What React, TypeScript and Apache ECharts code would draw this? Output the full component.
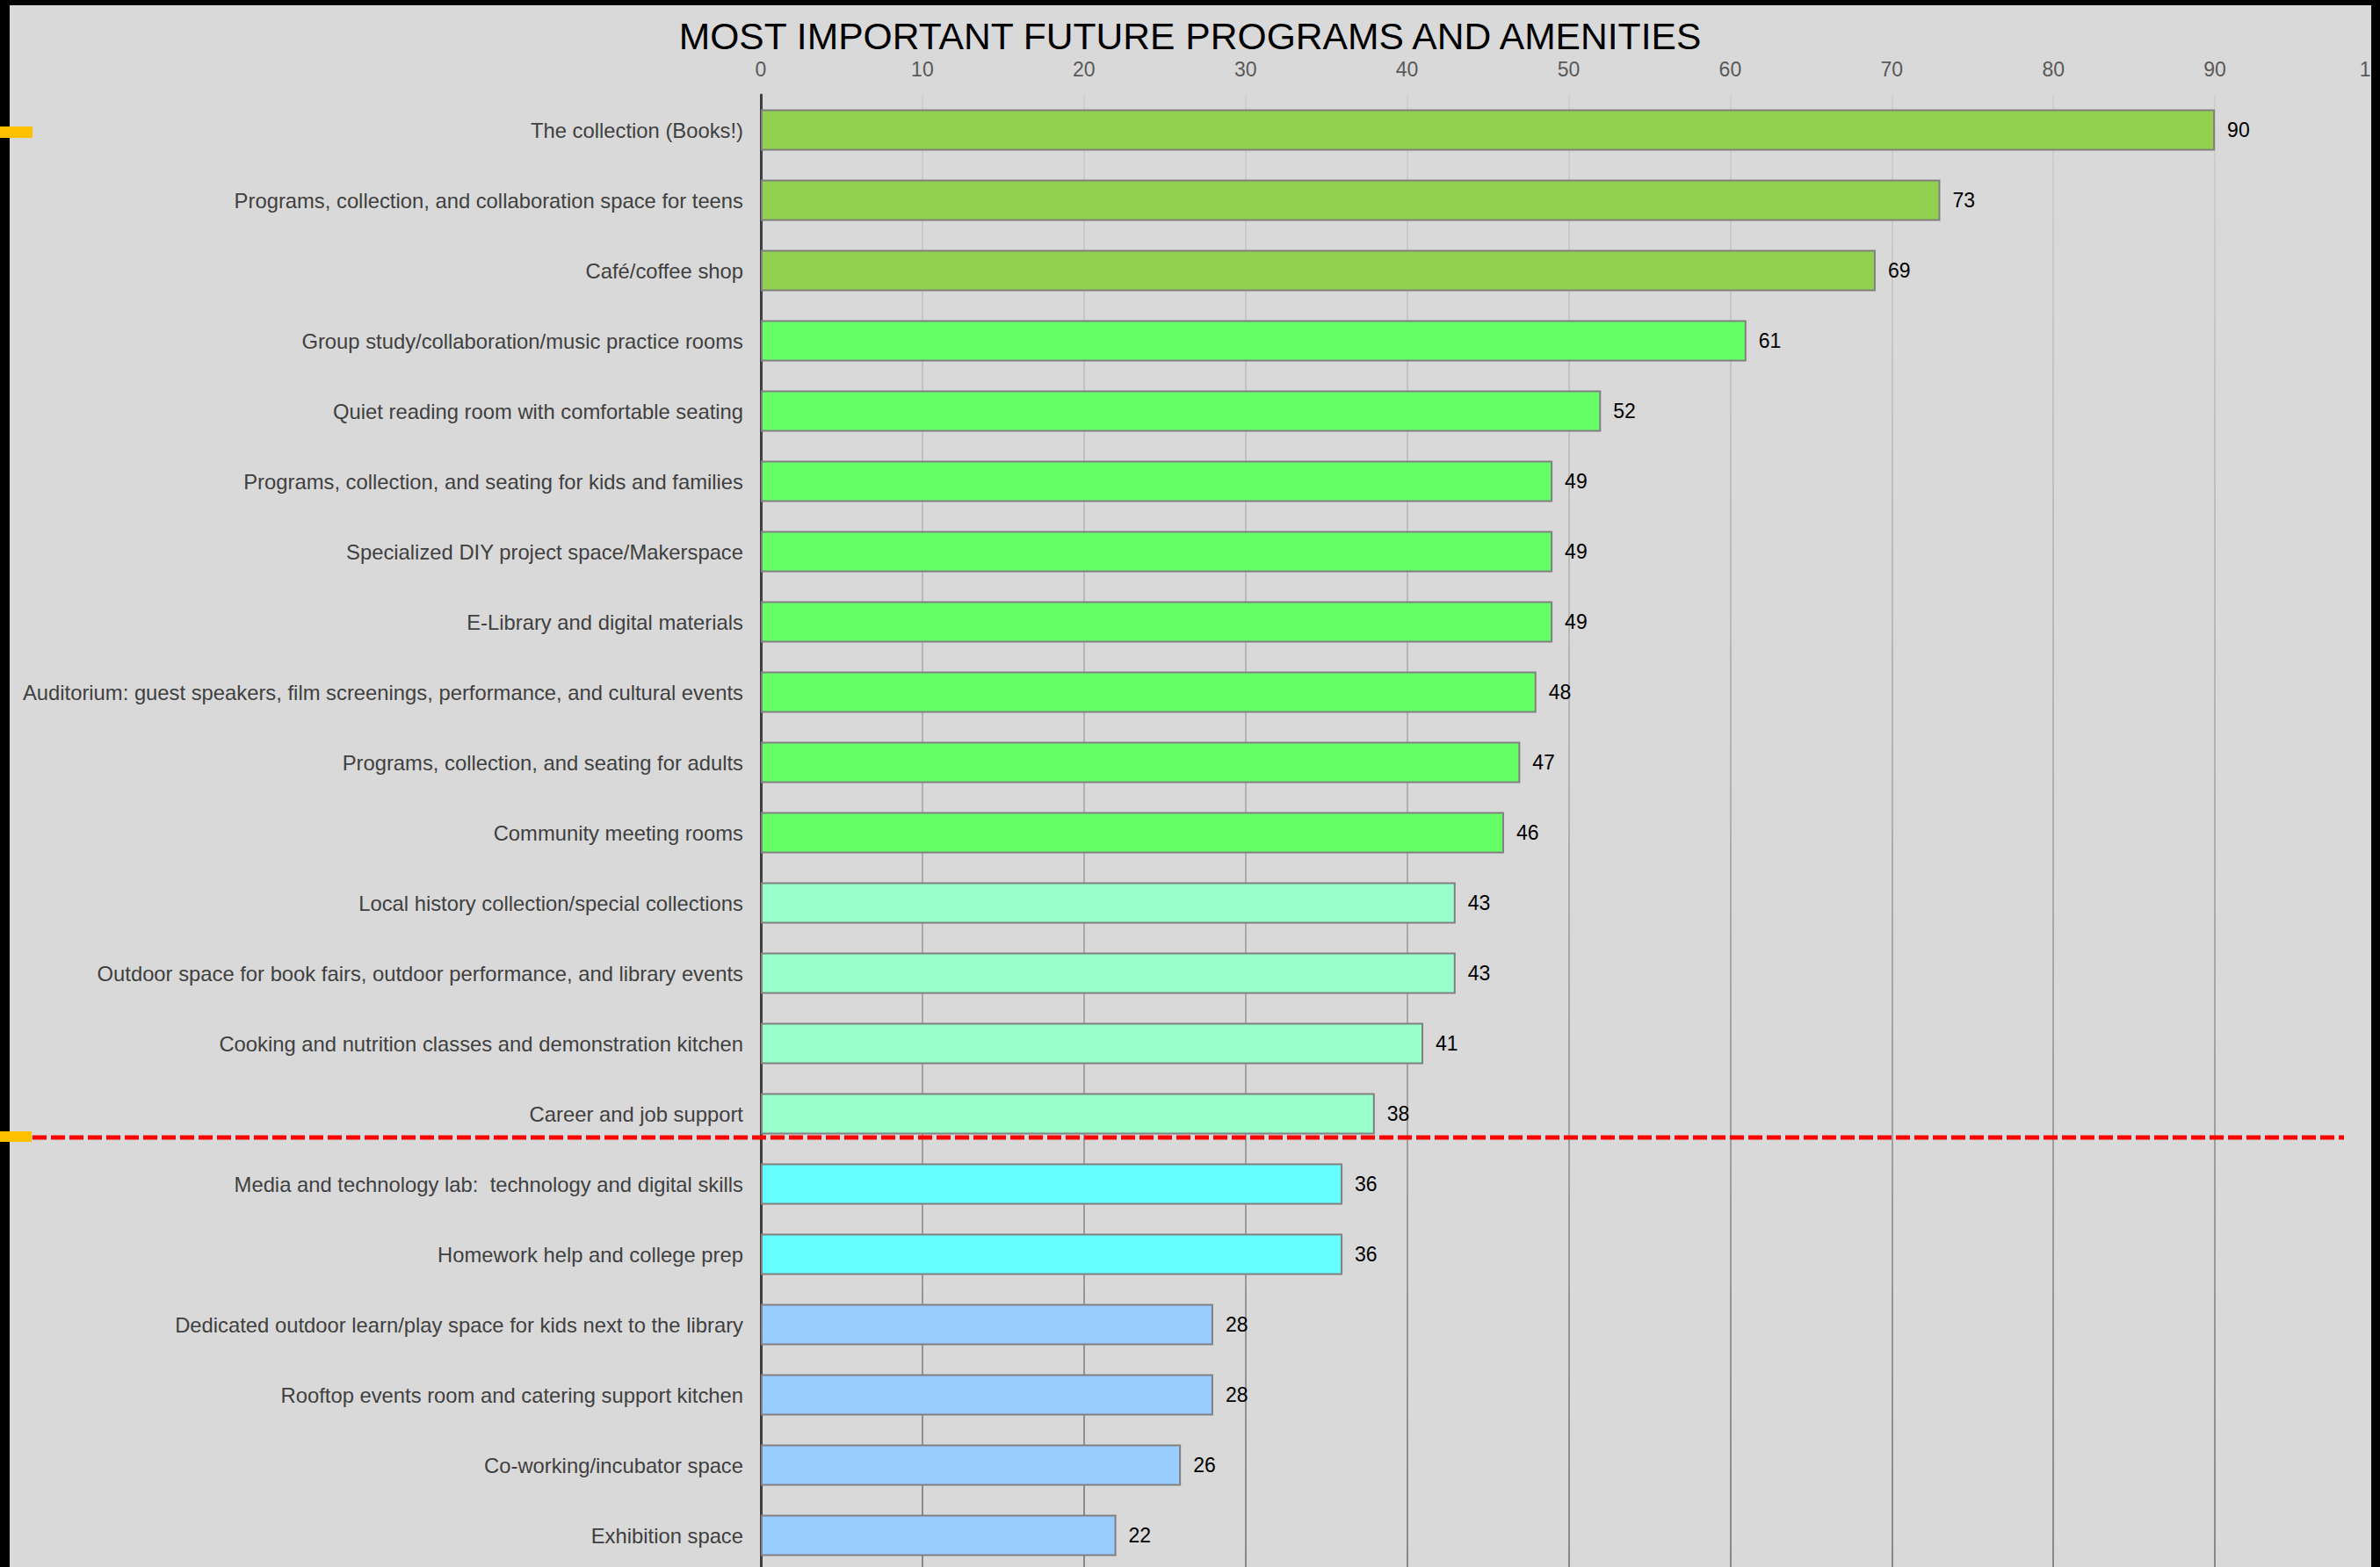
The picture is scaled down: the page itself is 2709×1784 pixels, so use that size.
import React, { useEffect, useRef } from "react";
import * as echarts from "echarts";

const title = "MOST IMPORTANT FUTURE PROGRAMS AND AMENITIES";

const categories = [
  "The collection (Books!)",
  "Programs, collection, and collaboration space for teens",
  "Café/coffee shop",
  "Group study/collaboration/music practice rooms",
  "Quiet reading room with comfortable seating",
  "Programs, collection, and seating for kids and families",
  "Specialized DIY project space/Makerspace",
  "E-Library and digital materials",
  "Auditorium: guest speakers, film screenings, performance, and cultural events",
  "Programs, collection, and seating for adults",
  "Community meeting rooms",
  "Local history collection/special collections",
  "Outdoor space for book fairs, outdoor performance, and library events",
  "Cooking and nutrition classes and demonstration kitchen",
  "Career and job support",
  "Media and technology lab:  technology and digital skills",
  "Homework help and college prep",
  "Dedicated outdoor learn/play space for kids next to the library",
  "Rooftop events room and catering support kitchen",
  "Co-working/incubator space",
  "Exhibition space",
];

const values = [90, 73, 69, 61, 52, 49, 49, 49, 48, 47, 46, 43, 43, 41, 38, 36, 36, 28, 28, 26, 22];

// group index of each category (drives the bar colour)
const tiers = [0, 0, 0, 1, 1, 1, 1, 1, 1, 1, 1, 2, 2, 2, 2, 3, 3, 4, 4, 4, 4];

const tierColors = ["#92d050", "#66ff66", "#99ffcc", "#66ffff", "#99ccff"];

const xTicks = { min: 0, max: 100, interval: 10 };

const FONT = "'Liberation Sans', Arial, sans-serif";

export default function App() {
  const ref = useRef<HTMLDivElement>(null);

  useEffect(() => {
    if (!ref.current) return;
    const chart = echarts.init(ref.current, undefined, { renderer: "svg" });
    const gridTop = 108;
    const gridBottomPx = 1788;
    chart.setOption({
      animation: false,
      backgroundColor: "transparent",
      textStyle: { fontFamily: FONT },
      title: {
        text: title,
        left: "center",
        top: 14,
        textStyle: { fontFamily: FONT, fontSize: 42.6, fontWeight: "normal", color: "#000" },
      },
      grid: {
        left: 866,
        top: gridTop,
        right: 4,
        bottom: 4,
        containLabel: false,
        outerBoundsMode: "none",
      },
      xAxis: {
        type: "value",
        position: "top",
        min: xTicks.min,
        max: xTicks.max,
        interval: xTicks.interval,
        axisLine: { show: false },
        axisTick: { show: false },
        axisLabel: { color: "#595959", fontSize: 23, margin: 18, fontFamily: FONT },
        splitLine: {
          show: true,
          lineStyle: {
            width: 2,
            color: new echarts.graphic.LinearGradient(
              0, gridTop, 0, gridBottomPx,
              [
                { offset: 0, color: "#d0d0d0" },
                { offset: 0.5, color: "#aeaeae" },
                { offset: 1, color: "#888888" },
              ],
              true
            ),
          },
        },
      },
      yAxis: {
        type: "category",
        inverse: true,
        data: categories,
        axisLine: { show: true, lineStyle: { color: "#404040", width: 3 } },
        axisTick: { show: false },
        axisLabel: { color: "#404040", fontSize: 23.8, margin: 20, fontFamily: FONT },
        splitLine: { show: false },
      },
      series: [
        {
          type: "bar",
          barWidth: 47,
          data: values.map((v, i) => ({
            value: v,
            itemStyle: { color: tierColors[tiers[i]] },
          })),
          itemStyle: { borderColor: "#808080", borderWidth: 2 },
          label: {
            show: true,
            position: "right",
            distance: 14,
            color: "#000",
            fontSize: 23,
            fontFamily: FONT,
          },
        },
      ],
      graphic: [
        {
          type: "rect",
          shape: { x: 0, y: 144, width: 37, height: 13 },
          style: { fill: "#ffc000" },
          z: 100,
        },
        {
          type: "rect",
          shape: { x: 0, y: 1288, width: 36, height: 12 },
          style: { fill: "#ffc000" },
          z: 100,
        },
        {
          type: "line",
          shape: { x1: 37, y1: 1295, x2: 2668, y2: 1295 },
          style: { stroke: "#ff0000", lineWidth: 5, lineDash: [16, 5] },
          z: 100,
        },
      ],
    });
    return () => chart.dispose();
  }, []);

  return (
    <div
      style={{
        position: "fixed",
        left: 0,
        top: 0,
        width: 2709,
        height: 1784,
        background: "#000",
        overflow: "hidden",
      }}
    >
      <div
        style={{
          position: "absolute",
          left: 11,
          top: 6,
          width: 2688,
          height: 1800,
          background: "#d9d9d9",
        }}
      />
      <div
        ref={ref}
        style={{ position: "absolute", left: 0, top: 0, width: 2709, height: 1792 }}
      />
      <div
        style={{
          position: "absolute",
          left: 2699,
          top: 0,
          width: 10,
          height: 1784,
          background: "#000",
        }}
      />
    </div>
  );
}
